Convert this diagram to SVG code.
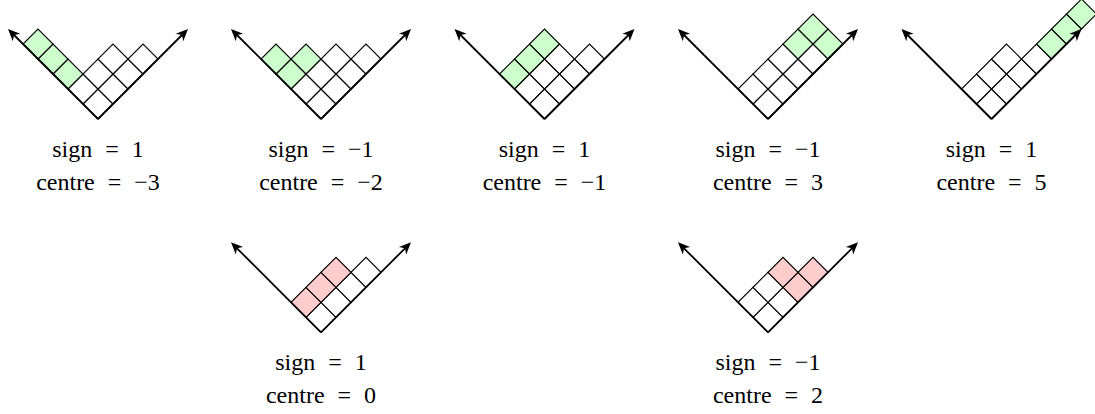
<svg xmlns="http://www.w3.org/2000/svg" width="1095" height="414" viewBox="0 0 1095 414">
<style>
.cell{fill:#ffffff;stroke:#000;stroke-width:1.1;vector-effect:non-scaling-stroke}
.g{fill:#ccffcc}
.r{fill:#ffcccc}
.arm{stroke:#000;stroke-width:1.8;fill:none;marker-end:url(#ah)}
text{font-family:"Liberation Serif","Times New Roman",serif;font-size:24px;text-anchor:middle;word-spacing:7px;fill:#000}
</style>
<defs>
<marker id="ah" viewBox="-13 -7 16 14" refX="-2.83" refY="0" markerWidth="16" markerHeight="14" markerUnits="userSpaceOnUse" orient="auto">
<path d="M0,0 L-12,-5.2 L-8.5,0 L-12,5.2 Z" fill="#000"/>
</marker>
</defs>

<g id="d1">
<g transform="translate(98,119) matrix(15,-15,-15,-15,0,0)">
<rect class="cell" x="0" y="0" width="1" height="1"/><rect class="cell" x="1" y="0" width="1" height="1"/><rect class="cell" x="2" y="0" width="1" height="1"/><rect class="cell" x="3" y="0" width="1" height="1"/>
<rect class="cell" x="0" y="1" width="1" height="1"/><rect class="cell" x="1" y="1" width="1" height="1"/><rect class="cell" x="2" y="1" width="1" height="1"/>
<rect class="cell g" x="0" y="2" width="1" height="1"/><rect class="cell g" x="0" y="3" width="1" height="1"/><rect class="cell g" x="0" y="4" width="1" height="1"/>
</g>
<text x="98" y="156.5">sign = 1</text>
<text x="98" y="189.5">centre = −3</text>
</g>

<g id="d2">
<g transform="translate(321,119) matrix(15,-15,-15,-15,0,0)">
<rect class="cell" x="0" y="0" width="1" height="1"/><rect class="cell" x="1" y="0" width="1" height="1"/><rect class="cell" x="2" y="0" width="1" height="1"/><rect class="cell" x="3" y="0" width="1" height="1"/>
<rect class="cell" x="0" y="1" width="1" height="1"/><rect class="cell" x="1" y="1" width="1" height="1"/><rect class="cell" x="2" y="1" width="1" height="1"/>
<rect class="cell g" x="0" y="2" width="1" height="1"/><rect class="cell g" x="1" y="2" width="1" height="1"/><rect class="cell g" x="0" y="3" width="1" height="1"/>
</g>
<text x="321" y="156.5">sign = −1</text>
<text x="321" y="189.5">centre = −2</text>
</g>

<g id="d3">
<g transform="translate(544.5,119) matrix(15,-15,-15,-15,0,0)">
<rect class="cell" x="0" y="0" width="1" height="1"/><rect class="cell" x="1" y="0" width="1" height="1"/><rect class="cell" x="2" y="0" width="1" height="1"/><rect class="cell" x="3" y="0" width="1" height="1"/>
<rect class="cell" x="0" y="1" width="1" height="1"/><rect class="cell" x="1" y="1" width="1" height="1"/><rect class="cell" x="2" y="1" width="1" height="1"/>
<rect class="cell g" x="0" y="2" width="1" height="1"/><rect class="cell g" x="1" y="2" width="1" height="1"/><rect class="cell g" x="2" y="2" width="1" height="1"/>
</g>
<text x="544.5" y="156.5">sign = 1</text>
<text x="544.5" y="189.5">centre = −1</text>
</g>

<g id="d4">
<g transform="translate(768,119) matrix(15,-15,-15,-15,0,0)">
<rect class="cell" x="0" y="0" width="1" height="1"/><rect class="cell" x="1" y="0" width="1" height="1"/><rect class="cell" x="2" y="0" width="1" height="1"/><rect class="cell" x="3" y="0" width="1" height="1"/>
<rect class="cell" x="0" y="1" width="1" height="1"/><rect class="cell" x="1" y="1" width="1" height="1"/><rect class="cell" x="2" y="1" width="1" height="1"/>
<rect class="cell g" x="4" y="0" width="1" height="1"/><rect class="cell g" x="3" y="1" width="1" height="1"/><rect class="cell g" x="4" y="1" width="1" height="1"/>
</g>
<text x="768" y="156.5">sign = −1</text>
<text x="768" y="189.5">centre = 3</text>
</g>

<g id="d5">
<g transform="translate(991.5,119) matrix(15,-15,-15,-15,0,0)">
<rect class="cell" x="0" y="0" width="1" height="1"/><rect class="cell" x="1" y="0" width="1" height="1"/><rect class="cell" x="2" y="0" width="1" height="1"/><rect class="cell" x="3" y="0" width="1" height="1"/>
<rect class="cell" x="0" y="1" width="1" height="1"/><rect class="cell" x="1" y="1" width="1" height="1"/><rect class="cell" x="2" y="1" width="1" height="1"/>
<rect class="cell g" x="4" y="0" width="1" height="1"/><rect class="cell g" x="5" y="0" width="1" height="1"/><rect class="cell g" x="6" y="0" width="1" height="1"/>
</g>
<text x="991.5" y="156.5">sign = 1</text>
<text x="991.5" y="189.5">centre = 5</text>
</g>

<g id="d6">
<g transform="translate(321,332.3) matrix(15,-15,-15,-15,0,0)">
<rect class="cell" x="0" y="0" width="1" height="1"/><rect class="cell" x="1" y="0" width="1" height="1"/><rect class="cell" x="2" y="0" width="1" height="1"/><rect class="cell" x="3" y="0" width="1" height="1"/>
<rect class="cell r" x="0" y="1" width="1" height="1"/><rect class="cell r" x="1" y="1" width="1" height="1"/><rect class="cell r" x="2" y="1" width="1" height="1"/>
</g>
<text x="321" y="369.8">sign = 1</text>
<text x="321" y="402.8">centre = 0</text>
</g>

<g id="d7">
<g transform="translate(768,332.3) matrix(15,-15,-15,-15,0,0)">
<rect class="cell" x="0" y="0" width="1" height="1"/><rect class="cell" x="1" y="0" width="1" height="1"/>
<rect class="cell" x="0" y="1" width="1" height="1"/><rect class="cell" x="1" y="1" width="1" height="1"/>
<rect class="cell r" x="2" y="0" width="1" height="1"/><rect class="cell r" x="3" y="0" width="1" height="1"/><rect class="cell r" x="2" y="1" width="1" height="1"/>
</g>
<text x="768" y="369.8">sign = −1</text>
<text x="768" y="402.8">centre = 2</text>
</g>

<g id="connectors">
<line class="arm" x1="98" y1="119" x2="10" y2="31"/><line class="arm" x1="98" y1="119" x2="186" y2="31"/>
<line class="arm" x1="321" y1="119" x2="233" y2="31"/><line class="arm" x1="321" y1="119" x2="409" y2="31"/>
<line class="arm" x1="544.5" y1="119" x2="456.5" y2="31"/><line class="arm" x1="544.5" y1="119" x2="632.5" y2="31"/>
<line class="arm" x1="768" y1="119" x2="680" y2="31"/><line class="arm" x1="768" y1="119" x2="856" y2="31"/>
<line class="arm" x1="991.5" y1="119" x2="903.5" y2="31"/><line class="arm" x1="991.5" y1="119" x2="1079.5" y2="31"/>
<line class="arm" x1="321" y1="332.3" x2="233" y2="244.3"/><line class="arm" x1="321" y1="332.3" x2="409" y2="244.3"/>
<line class="arm" x1="768" y1="332.3" x2="680" y2="244.3"/><line class="arm" x1="768" y1="332.3" x2="856" y2="244.3"/>
</g>
</svg>
